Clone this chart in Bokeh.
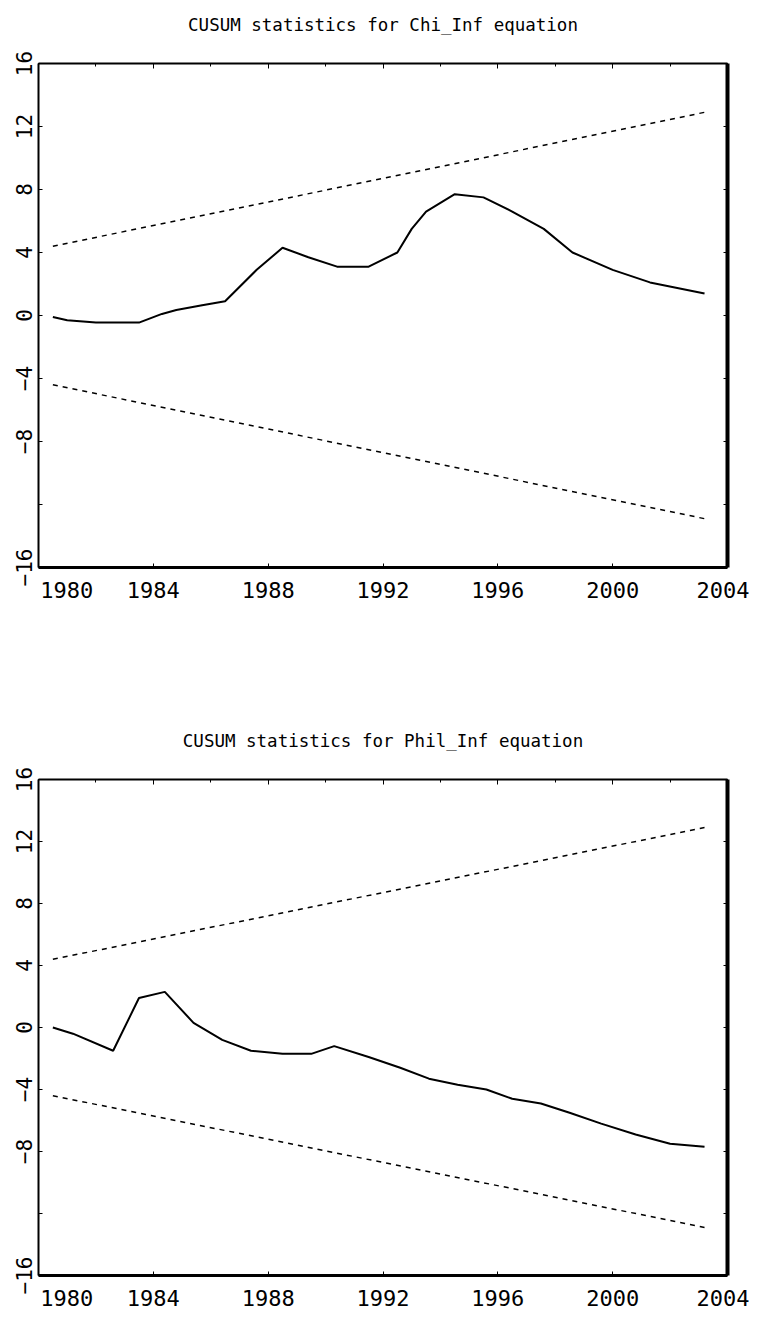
from bokeh.plotting import figure
from bokeh.models import LinearAxis, SingleIntervalTicker, FixedTicker, Range1d
from bokeh.layouts import column
from bokeh.embed import file_html
from bokeh.resources import INLINE

# ---- data ----
bound_years = [1980.5, 2003.2]
upper_bound = [4.4, 12.9]
lower_bound = [-4.4, -12.9]

chi_years = [1980.5, 1981.0, 1982.0, 1983.5, 1984.3, 1984.8, 1985.7, 1986.5,
             1987.6, 1988.5, 1989.4, 1990.4, 1991.5, 1992.5, 1993.0, 1993.5,
             1994.5, 1995.5, 1996.5, 1997.6, 1998.6, 2000.0, 2001.3, 2003.2]
chi_cusum = [-0.1, -0.3, -0.45, -0.45, 0.1, 0.35, 0.65, 0.9,
             2.9, 4.3, 3.7, 3.1, 3.1, 4.0, 5.5, 6.6,
             7.7, 7.5, 6.6, 5.5, 4.0, 2.9, 2.1, 1.4]

phil_years = [1980.5, 1981.2, 1982.6, 1983.5, 1984.4, 1985.4, 1986.4, 1987.4,
              1988.5, 1989.5, 1990.3, 1991.5, 1992.6, 1993.6, 1994.6, 1995.6,
              1996.5, 1997.5, 1998.5, 1999.6, 2000.8, 2002.0, 2003.2]
phil_cusum = [0.0, -0.4, -1.5, 1.9, 2.3, 0.3, -0.8, -1.5,
              -1.7, -1.7, -1.2, -1.9, -2.6, -3.3, -3.7, -4.0,
              -4.6, -4.9, -5.5, -6.2, -6.9, -7.5, -7.7]

x_ticks = [1980, 1984, 1988, 1992, 1996, 2000, 2004]
y_labeled_ticks = [-16, -8, -4, 0, 4, 8, 12, 16]
y_unlabeled_ticks = [-12]
y_all_ticks = [-16, -12, -8, -4, 0, 4, 8, 12, 16]

titles = ["CUSUM statistics for Chi_Inf equation",
          "CUSUM statistics for Phil_Inf equation"]

FONT = "DejaVu Sans Mono"


def make_plot(title, years, cusum, height, border_bottom):
    p = figure(width=749, height=height,
               x_range=Range1d(1980, 2004), y_range=Range1d(-16, 16),
               output_backend="svg", toolbar_location=None,
               x_axis_location=None, y_axis_location=None,
               min_border_left=38, min_border_right=22,
               min_border_top=63, min_border_bottom=border_bottom)
    p.outline_line_color = None
    p.grid.visible = False
    p.background_fill_color = "white"
    p.border_fill_color = "white"

    p.title.text = title
    p.title.align = "center"
    p.title.text_font = FONT
    p.title.text_font_size = "17.5px"
    p.title.text_font_style = "normal"
    p.title.text_color = "black"
    p.title.standoff = 10

    bottom = LinearAxis(ticker=FixedTicker(ticks=x_ticks),
                        major_label_overrides={1980: "\u00a0" * 3 + "1980"})
    bottom.axis_line_width = 3
    bottom.major_tick_in = 4
    bottom.major_tick_out = 0
    bottom.minor_tick_line_color = None
    bottom.major_label_text_font = FONT
    bottom.major_label_text_font_size = "22px"
    bottom.major_label_text_color = "black"
    bottom.major_label_standoff = 10
    p.add_layout(bottom, "below")

    top = LinearAxis(ticker=SingleIntervalTicker(interval=4, num_minor_ticks=2))
    top.axis_line_width = 2
    top.major_tick_in = 5
    top.major_tick_out = 0
    top.minor_tick_in = 3
    top.minor_tick_out = 0
    top.major_label_text_color = None
    top.major_label_standoff = 0
    p.add_layout(top, "above")

    # invisible spacer between the frame and the title
    spacer = LinearAxis(ticker=FixedTicker(ticks=x_ticks))
    spacer.axis_line_color = None
    spacer.major_tick_line_color = None
    spacer.minor_tick_line_color = None
    spacer.major_tick_in = 0
    spacer.major_tick_out = 24
    spacer.major_label_text_color = None
    spacer.major_label_standoff = 0
    p.add_layout(spacer, "above")

    left = LinearAxis(ticker=FixedTicker(ticks=y_labeled_ticks,
                                         minor_ticks=y_unlabeled_ticks))
    left.axis_line_width = 2
    left.major_tick_in = 4
    left.major_tick_out = 0
    left.minor_tick_in = 4
    left.minor_tick_out = 0
    left.minor_tick_line_width = 1
    left.major_label_orientation = "vertical"
    left.major_label_text_font = FONT
    left.major_label_text_font_size = "21px"
    left.major_label_text_color = "black"
    left.major_label_standoff = 7
    p.add_layout(left, "left")

    right = LinearAxis(ticker=FixedTicker(ticks=y_all_ticks))
    right.axis_line_width = 4
    right.major_tick_in = 4
    right.major_tick_out = 0
    right.minor_tick_line_color = None
    right.major_label_text_color = None
    right.major_label_standoff = 0
    p.add_layout(right, "right")

    p.line(bound_years, upper_bound, line_color="black", line_width=1.5, line_dash="5 5")
    p.line(bound_years, lower_bound, line_color="black", line_width=1.5, line_dash="5 5")
    p.line(years, cusum, line_color="black", line_width=2)
    return p


p1 = make_plot(titles[0], chi_years, chi_cusum, 716, 149)
p2 = make_plot(titles[1], phil_years, phil_cusum, 597, 30)
layout = column(p1, p2, spacing=0)

open("out.html", "w").write(file_html(layout, INLINE))
